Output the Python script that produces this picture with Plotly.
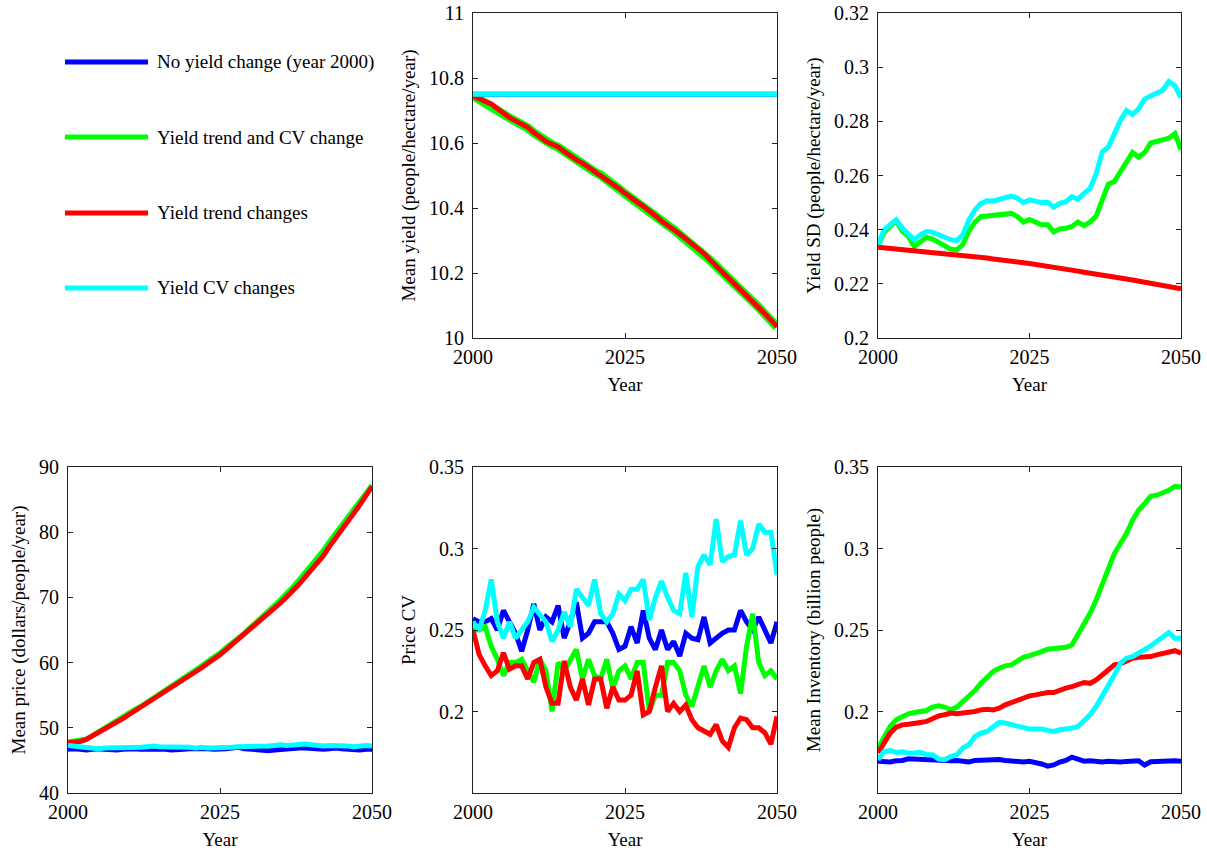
import plotly.graph_objects as go

years = list(range(2000, 2051))

series_names = ["No yield change (year 2000)", "Yield trend and CV change",
                "Yield trend changes", "Yield CV changes"]
series_colors = ["#0000ff", "#00ff00", "#ff0000", "#00ffff"]

# ---- Mean yield (people/hectare/year)
yield_mean_blue = [10.75] * 51
yield_mean_cyan = [10.75] * 51
yield_mean_red = [10.745, 10.735, 10.728, 10.72, 10.705, 10.69, 10.678, 10.668, 10.66, 10.648,
                  10.632, 10.618, 10.605, 10.596, 10.588, 10.574, 10.56, 10.548, 10.538, 10.525,
                  10.512, 10.502, 10.49, 10.475, 10.46, 10.445, 10.43, 10.418, 10.405, 10.392,
                  10.376, 10.36, 10.348, 10.335, 10.32, 10.305, 10.29, 10.276, 10.26, 10.24,
                  10.222, 10.205, 10.186, 10.168, 10.15, 10.13, 10.112, 10.095, 10.075, 10.055,
                  10.035]
yield_mean_green = [10.745, 10.734, 10.727, 10.719, 10.704, 10.689, 10.677, 10.667, 10.659, 10.647,
                    10.631, 10.617, 10.604, 10.595, 10.587, 10.573, 10.559, 10.547, 10.537, 10.524,
                    10.511, 10.501, 10.489, 10.474, 10.459, 10.444, 10.429, 10.417, 10.404, 10.391,
                    10.375, 10.359, 10.347, 10.334, 10.319, 10.304, 10.289, 10.275, 10.259, 10.239,
                    10.221, 10.204, 10.185, 10.167, 10.149, 10.129, 10.111, 10.094, 10.074, 10.054,
                    10.034]

# ---- Yield SD (people/hectare/year)
yield_sd_red = [0.2335, 0.2333, 0.2331, 0.2329, 0.2327, 0.2325, 0.2323, 0.2321, 0.2319, 0.2317,
                0.2314, 0.2312, 0.2310, 0.2307, 0.2305, 0.2302, 0.2300, 0.2297, 0.2295, 0.2292,
                0.2290, 0.2287, 0.2284, 0.2281, 0.2278, 0.2275, 0.2272, 0.2268, 0.2265, 0.2261,
                0.2257, 0.2254, 0.2250, 0.2247, 0.2243, 0.2240, 0.2236, 0.2233, 0.2229, 0.2226,
                0.2222, 0.2218, 0.2214, 0.2210, 0.2206, 0.2202, 0.2198, 0.2194, 0.2190, 0.2186,
                0.2182]
yield_sd_green = [0.2340, 0.2390, 0.2412, 0.2432, 0.2395, 0.2375, 0.2338, 0.2358, 0.2372, 0.2365,
                  0.2352, 0.2338, 0.2328, 0.2325, 0.2345, 0.2395, 0.2428, 0.2448, 0.2450, 0.2450,
                  0.2455, 0.2458, 0.2460, 0.2448, 0.2428, 0.2438, 0.2428, 0.2418, 0.2418, 0.2392,
                  0.2403, 0.2405, 0.2412, 0.2428, 0.2415, 0.2428, 0.2450, 0.2515, 0.2568, 0.2578,
                  0.2615, 0.2655, 0.2685, 0.2668, 0.2685, 0.2720, 0.2725, 0.2732, 0.2738, 0.2755,
                  0.2695]
yield_sd_cyan = [0.2345, 0.2400, 0.2418, 0.2436, 0.2406, 0.2387, 0.2363, 0.2381, 0.2393, 0.2391,
                 0.2381, 0.2371, 0.2363, 0.2360, 0.2381, 0.2436, 0.2473, 0.2497, 0.2507, 0.2506,
                 0.2512, 0.2519, 0.2524, 0.2516, 0.2500, 0.2510, 0.2503, 0.2500, 0.2501, 0.2483,
                 0.2497, 0.2503, 0.2522, 0.2512, 0.2534, 0.2552, 0.2607, 0.2687, 0.2705, 0.2754,
                 0.2803, 0.2840, 0.2825, 0.2846, 0.2882, 0.2894, 0.2903, 0.2915, 0.2947, 0.2931,
                 0.2888]

# ---- Mean price (dollars/people/year)
price_mean_blue = [46.7, 46.8, 46.7, 46.6, 46.7, 46.8, 46.7, 46.6, 46.6, 46.7,
                   46.8, 46.8, 46.7, 46.7, 46.8, 46.7, 46.7, 46.6, 46.6, 46.7,
                   46.8, 46.8, 46.9, 46.8, 46.7, 46.7, 46.8, 46.9, 47.0, 46.8,
                   46.7, 46.6, 46.6, 46.5, 46.6, 46.7, 46.7, 46.8, 46.9, 46.9,
                   46.8, 46.7, 46.7, 46.8, 46.9, 46.8, 46.7, 46.6, 46.6, 46.7,
                   46.7]
price_mean_cyan = [47.3, 47.2, 47.0, 46.9, 46.9, 46.8, 46.9, 46.9, 46.9, 47.0,
                   47.0, 47.0, 47.0, 47.1, 47.2, 47.1, 47.1, 47.0, 47.1, 47.0,
                   47.0, 46.9, 47.0, 46.9, 46.9, 47.0, 47.0, 47.0, 47.1, 47.1,
                   47.2, 47.1, 47.2, 47.2, 47.3, 47.4, 47.3, 47.4, 47.5, 47.5,
                   47.4, 47.3, 47.2, 47.3, 47.3, 47.3, 47.2, 47.1, 47.2, 47.3,
                   47.2]
price_mean_red = [47.7, 47.8, 47.9, 48.2, 48.7, 49.3, 49.8, 50.3, 50.9, 51.4,
                  52.0, 52.6, 53.1, 53.6, 54.3, 54.9, 55.4, 56.0, 56.6, 57.2,
                  57.9, 58.5, 59.2, 59.9, 60.5, 61.2, 62.0, 62.8, 63.5, 64.2,
                  65.1, 65.8, 66.7, 67.6, 68.4, 69.2, 70.1, 71.0, 72.0, 73.1,
                  74.2, 75.3, 76.4, 77.8, 79.0, 80.3, 81.6, 82.9, 84.2, 85.6,
                  87.0]
price_mean_green = [47.8, 48.0, 48.1, 48.3, 48.8, 49.4, 49.9, 50.4, 51.0, 51.6,
                    52.2, 52.8, 53.3, 53.9, 54.7, 55.3, 55.8, 56.3, 56.9, 57.5,
                    58.1, 58.8, 59.5, 60.2, 60.8, 61.5, 62.3, 63.0, 63.7, 64.5,
                    65.4, 66.2, 67.1, 68.0, 68.8, 69.7, 70.6, 71.6, 72.7, 73.8,
                    74.9, 76.0, 77.2, 78.6, 79.8, 81.0, 82.2, 83.4, 84.6, 85.9,
                    87.2]

# ---- Price CV
price_cv_blue = [0.257, 0.255, 0.255, 0.257, 0.250, 0.262, 0.255, 0.248, 0.237, 0.250,
                 0.266, 0.250, 0.258, 0.255, 0.265, 0.245, 0.255, 0.267, 0.245, 0.248,
                 0.255, 0.255, 0.255, 0.248, 0.238, 0.240, 0.252, 0.242, 0.262, 0.245,
                 0.238, 0.250, 0.238, 0.243, 0.234, 0.248, 0.245, 0.244, 0.258, 0.242,
                 0.245, 0.248, 0.250, 0.250, 0.262, 0.255, 0.250, 0.258, 0.250, 0.242,
                 0.255]
price_cv_green = [0.250, 0.250, 0.252, 0.240, 0.232, 0.222, 0.230, 0.230, 0.232, 0.225,
                  0.218, 0.232, 0.225, 0.200, 0.230, 0.225, 0.232, 0.238, 0.220, 0.232,
                  0.222, 0.220, 0.232, 0.214, 0.225, 0.228, 0.220, 0.230, 0.230, 0.200,
                  0.210, 0.210, 0.230, 0.230, 0.225, 0.210, 0.203, 0.215, 0.228, 0.215,
                  0.225, 0.232, 0.225, 0.228, 0.211, 0.240, 0.260, 0.230, 0.222, 0.225,
                  0.220]
price_cv_red = [0.250, 0.235, 0.228, 0.222, 0.225, 0.236, 0.226, 0.228, 0.228, 0.220,
                0.230, 0.232, 0.215, 0.205, 0.205, 0.231, 0.215, 0.207, 0.220, 0.204,
                0.220, 0.220, 0.202, 0.215, 0.207, 0.207, 0.210, 0.225, 0.198, 0.200,
                0.215, 0.228, 0.200, 0.205, 0.200, 0.204, 0.195, 0.190, 0.188, 0.186,
                0.192, 0.182, 0.178, 0.190, 0.196, 0.195, 0.190, 0.190, 0.187, 0.180,
                0.197]
price_cv_cyan = [0.255, 0.250, 0.262, 0.281, 0.255, 0.245, 0.255, 0.245, 0.250, 0.255,
                 0.264, 0.260, 0.255, 0.243, 0.250, 0.261, 0.252, 0.275, 0.270, 0.265,
                 0.281, 0.260, 0.255, 0.260, 0.272, 0.268, 0.275, 0.275, 0.281, 0.256,
                 0.270, 0.280, 0.270, 0.262, 0.260, 0.285, 0.258, 0.289, 0.296, 0.290,
                 0.318, 0.292, 0.295, 0.296, 0.317, 0.296, 0.300, 0.315, 0.310, 0.310,
                 0.284]

# ---- Mean inventory (billion people)
inv_blue = [0.1695, 0.1695, 0.1690, 0.1698, 0.1700, 0.1710, 0.1708, 0.1702, 0.1700, 0.1698,
            0.1700, 0.1695, 0.1698, 0.1700, 0.1696, 0.1690, 0.1700, 0.1702, 0.1698, 0.1702,
            0.1705, 0.1700, 0.1696, 0.1692, 0.1690, 0.1695, 0.1688, 0.1678, 0.1665, 0.1672,
            0.1690, 0.1700, 0.1720, 0.1705, 0.1695, 0.1698, 0.1692, 0.1690, 0.1695, 0.1692,
            0.1690, 0.1694, 0.1696, 0.1698, 0.1672, 0.1692, 0.1694, 0.1696, 0.1700, 0.1698,
            0.1695]
inv_green = [0.1776, 0.1847, 0.1908, 0.1949, 0.1969, 0.1986, 0.1994, 0.2000, 0.2006, 0.2027,
             0.2035, 0.2027, 0.2010, 0.2027, 0.2061, 0.2092, 0.2129, 0.2173, 0.2214, 0.2245,
             0.2265, 0.2280, 0.2286, 0.2306, 0.2333, 0.2343, 0.2353, 0.2367, 0.2382, 0.2388,
             0.2392, 0.2394, 0.2408, 0.2469, 0.2537, 0.2602, 0.2684, 0.2786, 0.2888, 0.2969,
             0.3031, 0.3092, 0.3173, 0.3235, 0.3276, 0.3320, 0.3327, 0.3341, 0.3357, 0.3382,
             0.3378]
inv_red = [0.1745, 0.1806, 0.1867, 0.1904, 0.1918, 0.1922, 0.1924, 0.1933, 0.1939, 0.1959,
           0.1973, 0.1980, 0.1990, 0.1986, 0.1990, 0.1994, 0.2000, 0.2010, 0.2014, 0.2010,
           0.2020, 0.2041, 0.2055, 0.2076, 0.2088, 0.2096, 0.2102, 0.2112, 0.2116, 0.2116,
           0.2133, 0.2143, 0.2153, 0.2163, 0.2178, 0.2173, 0.2194, 0.2224, 0.2259, 0.2286,
           0.2292, 0.2312, 0.2327, 0.2333, 0.2333, 0.2337, 0.2347, 0.2357, 0.2361, 0.2373,
           0.2357]
inv_cyan = [0.1704, 0.1755, 0.1761, 0.1749, 0.1753, 0.1745, 0.1745, 0.1749, 0.1735, 0.1735,
            0.1708, 0.1704, 0.1724, 0.1735, 0.1776, 0.1796, 0.1847, 0.1867, 0.1878, 0.1908,
            0.1933, 0.1929, 0.1918, 0.1908, 0.1898, 0.1892, 0.1892, 0.1892, 0.1884, 0.1878,
            0.1888, 0.1892, 0.1898, 0.1908, 0.1939, 0.1980, 0.2031, 0.2092, 0.2153, 0.2224,
            0.2296, 0.2327, 0.2337, 0.2357, 0.2382, 0.2402, 0.2429, 0.2459, 0.2484, 0.2449,
            0.2449]

x_ticks = [2000, 2025, 2050]

FONT = "Liberation Serif, Times New Roman, serif"
W, H = 1207, 854

def px_x(a, b):
    return [a / W, b / W]

def px_y(top, bottom):
    return [1 - bottom / H, 1 - top / H]

panels = [
    # (axis id, x px, y px, yrange, ytickvals, ytitle, series list)
    (1, (473, 777), (13, 338), [10, 11], [10, 10.2, 10.4, 10.6, 10.8, 11],
     "Mean yield (people/hectare/year)",
     [(0, yield_mean_blue, 5), (1, yield_mean_green, 9), (2, yield_mean_red, 5), (3, yield_mean_cyan, 5)]),
    (2, (878, 1181), (13, 338), [0.2, 0.32], [0.2, 0.22, 0.24, 0.26, 0.28, 0.3, 0.32],
     "Yield SD (people/hectare/year)",
     [(1, yield_sd_green, 5), (2, yield_sd_red, 5), (3, yield_sd_cyan, 5)]),
    (3, (68, 372), (467, 793), [40, 90], [40, 50, 60, 70, 80, 90],
     "Mean price (dollars/people/year)",
     [(0, price_mean_blue, 5), (1, price_mean_green, 5), (2, price_mean_red, 5), (3, price_mean_cyan, 5)]),
    (4, (473, 777), (467, 793), [0.15, 0.35], [0.2, 0.25, 0.3, 0.35],
     "Price CV",
     [(0, price_cv_blue, 5), (1, price_cv_green, 5), (2, price_cv_red, 5), (3, price_cv_cyan, 5)]),
    (5, (878, 1181), (467, 793), [0.15, 0.35], [0.2, 0.25, 0.3, 0.35],
     "Mean Inventory (billion people)",
     [(0, inv_blue, 5), (1, inv_green, 5), (2, inv_red, 5), (3, inv_cyan, 5)]),
]

fig = go.Figure()
layout = dict(
    width=W, height=H,
    margin=dict(l=0, r=0, t=0, b=0, autoexpand=False),
    paper_bgcolor="white", plot_bgcolor="white",
    font=dict(family=FONT, size=20, color="black"),
    showlegend=False,
)

axis_common = dict(
    showline=True, linecolor="#222222", linewidth=1, mirror="ticks",
    ticks="inside", ticklen=5, tickcolor="#222222",
    showgrid=False, zeroline=False, automargin=False,
    ticklabeloverflow="allow",
    tickfont=dict(family=FONT, size=20, color="black"),
)

for aid, xpx, ypx, yr, ytv, ytitle, slist in panels:
    sfx = "" if aid == 1 else str(aid)
    for idx, vals, lw in slist:
        fig.add_trace(go.Scatter(
            x=years, y=vals, mode="lines",
            name=series_names[idx], legendgroup=series_names[idx],
            line=dict(color=series_colors[idx], width=lw),
            xaxis="x" + sfx, yaxis="y" + sfx,
        ))
    layout["xaxis" + sfx] = dict(
        axis_common, domain=px_x(*xpx), range=[2000, 2050],
        tickvals=x_ticks, anchor="y" + sfx, ticklabelstandoff=1,
        title=dict(text="Year", font=dict(family=FONT, size=19), standoff=10),
    )
    layout["yaxis" + sfx] = dict(
        axis_common, domain=px_y(*ypx), range=yr, tickvals=ytv,
        anchor="x" + sfx, ticklabelstandoff=4,
        title=dict(text=ytitle, font=dict(family=FONT, size=19), standoff=8),
    )

# Manual legend in the empty top-left panel
shapes = []
annotations = []
legend_y = [62, 137, 213, 288]
for i, yy in enumerate(legend_y):
    shapes.append(dict(type="line", xref="paper", yref="paper",
                       x0=65 / W, x1=148 / W, y0=1 - yy / H, y1=1 - yy / H,
                       line=dict(color=series_colors[i], width=5)))
    annotations.append(dict(xref="paper", yref="paper", x=155 / W, y=1 - yy / H,
                            text=series_names[i], showarrow=False,
                            xanchor="left", yanchor="middle",
                            font=dict(family=FONT, size=19, color="black")))
layout["shapes"] = shapes
layout["annotations"] = annotations

fig.update_layout(**layout)
# Remove the default page margin so the figure fills the 1207x854 window exactly.
fig.write_html("out.html",
               config={"displayModeBar": False},
               post_script="document.body.style.margin='0';document.body.style.overflow='hidden';")
